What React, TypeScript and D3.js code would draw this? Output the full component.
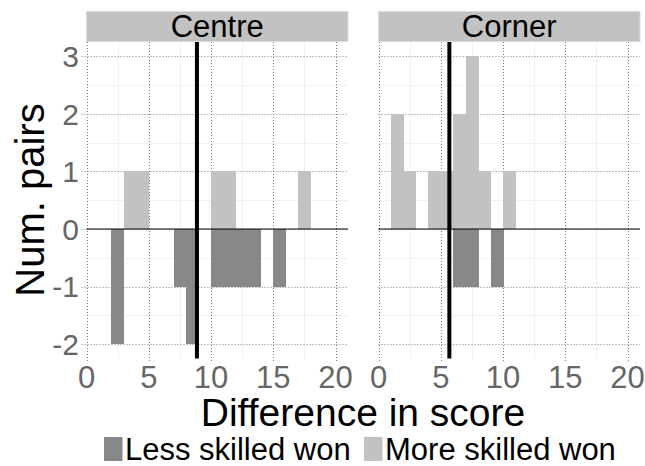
import React from "react";
import * as d3 from "d3";

// histogram bins (left edge, width 1)
const binLeft = [0, 1, 2, 3, 4, 5, 6, 7, 8, 9, 10, 11, 12, 13, 14, 15, 16, 17, 18, 19];

const centreMore = [0, 0, 0, 1, 1, 0, 0, 0, 0, 0, 1, 1, 0, 0, 0, 0, 0, 1, 0, 0];
const centreLess = [0, 0, 2, 0, 0, 0, 0, 1, 2, 0, 1, 1, 1, 1, 0, 1, 0, 0, 0, 0];
const cornerMore = [0, 2, 1, 0, 1, 1, 2, 3, 1, 0, 1, 0, 0, 0, 0, 0, 0, 0, 0, 0];
const cornerLess = [0, 0, 0, 0, 0, 0, 1, 1, 0, 1, 0, 0, 0, 0, 0, 0, 0, 0, 0, 0];

const centreMean = 8.87;
const cornerMean = 5.69;

const xTicks = [0, 5, 10, 15, 20];
const xMinor = [2.5, 7.5, 12.5, 17.5];
const yTicks = [-2, -1, 0, 1, 2, 3];
const yMinor = [-1.5, -0.5, 0.5, 1.5, 2.5];

const legendLabels = ["Less skilled won", "More skilled won"];

const LESS = "#888888";
const MORE = "#c2c2c2";
const FONT = "'Liberation Sans', Arial, Helvetica, sans-serif";

const panels = [
  { name: "Centre", left: 86.5, more: centreMore, less: centreLess, mean: centreMean },
  { name: "Corner", left: 378.5, more: cornerMore, less: cornerLess, mean: cornerMean },
];

const panelW = 261.5;
const panelTop = 42;
const panelBottom = 358.5;

const y = d3.scaleLinear().domain([-2.25, 3.25]).range([panelBottom, panelTop]);

function Panel({ p, showY }: { p: typeof panels[0]; showY: boolean }) {
  const x = d3.scaleLinear().domain([0, 21]).range([p.left, p.left + panelW]);
  const r = (v: number) => Math.round(v) + 0.5;
  return (
    <g>
      {/* strip */}
      <rect x={p.left} y={11.5} width={panelW} height={30} fill="#c2c2c2" stroke="#dcdcdc" strokeWidth={1} />
      <text x={p.left + panelW / 2} y={36.5} textAnchor="middle" fontSize={31} fontFamily={FONT} fill="#000">
        {p.name}
      </text>

      {/* minor grid */}
      {xMinor.map((t) => (
        <line key={"xm" + t} x1={r(x(t))} x2={r(x(t))} y1={panelTop} y2={panelBottom} stroke="#efefef" />
      ))}
      {yMinor.map((t) => (
        <line key={"ym" + t} x1={p.left} x2={p.left + panelW} y1={r(y(t))} y2={r(y(t))} stroke="#efefef" />
      ))}

      {/* major grid, dotted */}
      {xTicks.map((t) => (
        <line key={"xg" + t} x1={r(x(t))} x2={r(x(t))} y1={panelTop} y2={panelBottom + 4}
          stroke="#808080" strokeDasharray="1,2" />
      ))}
      {yTicks.map((t) => (
        <line key={"yg" + t} x1={p.left - (showY ? 5 : 0)} x2={p.left + panelW} y1={r(y(t))} y2={r(y(t))}
          stroke="#808080" strokeDasharray="1,2" />
      ))}

      {/* bars */}
      <g shapeRendering="crispEdges">
        {binLeft.map((b, i) =>
          p.more[i] > 0 ? (
            <rect key={"m" + b} x={x(b)} width={x(b + 1) - x(b) + 0.5} y={y(p.more[i])} height={y(0) - y(p.more[i])} fill={MORE} />
          ) : null
        )}
        {binLeft.map((b, i) =>
          p.less[i] > 0 ? (
            <rect key={"l" + b} x={x(b)} width={x(b + 1) - x(b) + 0.5} y={y(0)} height={y(-p.less[i]) - y(0)} fill={LESS} />
          ) : null
        )}
      </g>

      {/* zero line and mean line */}
      <line x1={p.left} x2={p.left + panelW} y1={y(0)} y2={y(0)} stroke="#000" strokeWidth={1} />
      <line x1={x(p.mean)} x2={x(p.mean)} y1={panelTop} y2={panelBottom} stroke="#000" strokeWidth={4} />

      {/* tick labels */}
      {xTicks.map((t) => (
        <text key={"xl" + t} x={x(t)} y={388} textAnchor="middle" fontSize={31} fontFamily={FONT} fill="#666">
          {t}
        </text>
      ))}
      {showY &&
        yTicks.map((t) => (
          <text key={"yl" + t} x={79} y={y(t)} dy="0.36em" textAnchor="end" fontSize={30} fontFamily={FONT} fill="#666">
            {t}
          </text>
        ))}
    </g>
  );
}

export default function App() {
  const legendX = [104, 364];
  return (
    <svg width={645} height={466} style={{ position: "absolute", left: 0, top: 0, background: "#fff" }}>
      {panels.map((p, i) => (
        <Panel key={p.name} p={p} showY={i === 0} />
      ))}

      <text transform="translate(44,200) rotate(-90)" textAnchor="middle" fontSize={40} fontFamily={FONT} fill="#000">
        Num. pairs
      </text>
      <text x={363} y={426} textAnchor="middle" fontSize={39} fontFamily={FONT} fill="#000">
        Difference in score
      </text>

      {legendLabels.map((lab, i) => (
        <g key={lab}>
          <rect x={legendX[i]} y={437} width={18.5} height={24} fill={i === 0 ? LESS : MORE} />
          <text x={legendX[i] + 21} y={460} fontSize={31} fontFamily={FONT} fill="#000">
            {lab}
          </text>
        </g>
      ))}
    </svg>
  );
}
